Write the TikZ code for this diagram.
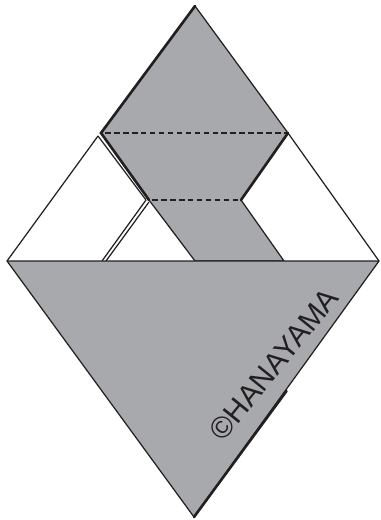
\documentclass[tikz,border=0pt]{standalone}
\usepackage{xcolor}
\usepackage{fontspec}
\setmainfont{Liberation Sans}
\usetikzlibrary{positioning}
\definecolor{mygray}{RGB}{168,169,173}
\definecolor{mydark}{RGB}{35,31,32}
\tikzset{
  edge/.style={line width=0.7pt, color=mydark, line join=round},
  heavyedge/.style={line width=1.5pt, color=mydark, line cap=round},
  foldline/.style={line width=0.7pt, color=mydark, dash pattern=on 3.2pt off 1.9pt}
}

\begin{document}
\begin{tikzpicture}[x=0.02cm, y=-0.02cm]
  \useasboundingbox (0, 0) rectangle (380, 520);

  % Upper flap and strip
  \draw[edge, fill=mygray] (195, 6) -- (288, 133) -- (241, 200) -- (284, 261) -- (195, 261) -- (149, 200) -- (101, 133) -- cycle;

  % Left flap
  \draw[edge] (98, 136) -- (7, 261);
  \draw[edge] (98, 136) -- (146, 200) -- (102, 261);
  \draw[edge] (149, 202) -- (106, 261);

  % Right flap
  \draw[edge] (288, 133) -- (379, 261);

  % Lower triangle
  \draw[edge, fill=mygray] (7, 261) -- (379, 261) -- (194, 517) -- cycle;

  % Heavy edges
  \draw[heavyedge] (195, 6) -- (101, 133) -- (149, 200);
  \draw[heavyedge] (288, 133) -- (241, 200);
  \draw[heavyedge] (194, 517) -- (286.5, 391);

  % Fold lines
  \draw[foldline] (105, 133) -- (288, 133);
  \draw[foldline] (152, 200) -- (241, 200);

  % Copyright mark
  \node[rotate=51, font=\fontsize{17pt}{19pt}\selectfont, text=mydark, inner sep=0pt] (mark) at (274, 364) {©HANAYAMA};
\end{tikzpicture}
\end{document}
